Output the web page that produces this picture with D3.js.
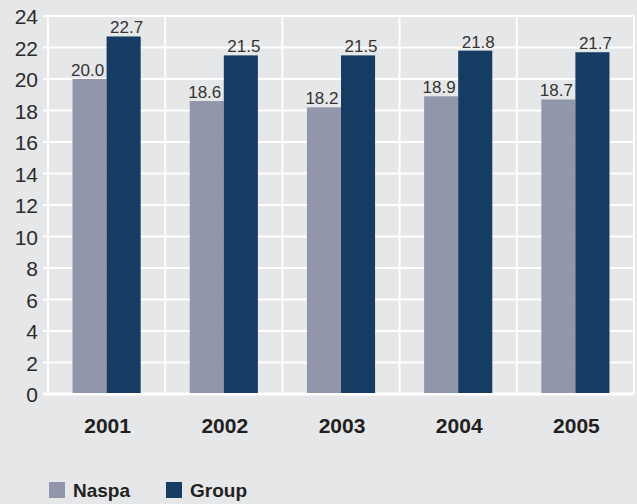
<!DOCTYPE html>
<html><head><meta charset="utf-8">
<script src="https://cdn.jsdelivr.net/npm/d3@7"></script>
<style>
html,body{margin:0;padding:0;background:#e6e7e9;}
svg{display:block;}
</style></head>
<body>
<svg id="chart" width="637" height="504"></svg>
<script>
const categories = ["2001","2002","2003","2004","2005"];
const seriesNames = ["Naspa","Group"];
const naspa = [20.0, 18.6, 18.2, 18.9, 18.7];
const group = [22.7, 21.5, 21.5, 21.8, 21.7];
const yTicks = [0,2,4,6,8,10,12,14,16,18,20,22,24];
const colors = ["#9196ab", "#163c63"];

(function(){
const svg = d3.select("#chart");
const W = 637, H = 504;
svg.append("rect").attr("width", W).attr("height", H).attr("fill", "#e6e7e9");

const pLeft = 48, pRight = 634, pTop = 16, pBottom = 394;
const x = d3.scaleBand().domain(categories).range([pLeft, pRight]).paddingInner(0).paddingOuter(0);
const x1 = d3.scaleBand().domain(seriesNames).range([0, x.bandwidth()]).paddingInner(0).paddingOuter(0.72);
const y = d3.scaleLinear().domain([0, 24]).range([pBottom, pTop]);

const numFont = "'Liberation Sans', Arial, sans-serif";
const boldFont = "'Liberation Sans', Arial, sans-serif";

// horizontal grid
svg.append("g").selectAll("line").data(yTicks).join("line")
  .attr("x1", 43).attr("x2", pRight)
  .attr("y1", d => y(d)).attr("y2", d => y(d))
  .attr("stroke", "#ffffff").attr("stroke-width", d => d === 0 ? 3 : 2);

// vertical grid
const vb = categories.map(c => x(c)).concat([pRight]);
svg.append("g").selectAll("line").data(vb).join("line")
  .attr("x1", d => d).attr("x2", d => d)
  .attr("y1", pTop).attr("y2", pBottom)
  .attr("stroke", "#ffffff").attr("stroke-width", 2);

// y axis labels
const yAxis = d3.axisLeft(y).tickValues(yTicks).tickSize(0).tickPadding(0).tickFormat(d3.format("d"));
const ya = svg.append("g").attr("transform", `translate(38,0)`).call(yAxis);
ya.select(".domain").remove();
ya.selectAll("text").attr("font-family", numFont).attr("font-size", 21).attr("fill", "#2b2b2b").attr("dy", "0.36em");

// bars
const data = categories.map((c, i) => ({cat: c, vals: [{s: "Naspa", v: naspa[i]}, {s: "Group", v: group[i]}]}));
const gb = svg.append("g").selectAll("g").data(data).join("g")
  .attr("transform", d => `translate(${x(d.cat)},0)`);
gb.selectAll("rect").data(d => d.vals).join("rect")
  .attr("x", d => x1(d.s)).attr("width", x1.bandwidth())
  .attr("y", d => y(d.v)).attr("height", d => y(0) - y(d.v) - 1)
  .attr("fill", (d, i) => colors[i]);
gb.selectAll("text").data(d => d.vals).join("text")
  .attr("x", (d, i) => x1(d.s) + x1.bandwidth() / 2 + (i === 0 ? -2 : 3))
  .attr("y", d => y(d.v) - 3)
  .attr("text-anchor", "middle")
  .attr("font-family", numFont).attr("font-size", 17).attr("fill", "#333333")
  .text(d => d3.format(".1f")(d.v));

// x axis labels
const xAxis = d3.axisBottom(x).tickSize(0).tickPadding(0);
const xa = svg.append("g").attr("transform", `translate(1,${pBottom})`).call(xAxis);
xa.select(".domain").remove();
xa.selectAll("text").attr("font-family", boldFont).attr("font-weight", "bold").attr("font-size", 21)
  .attr("fill", "#231f20").attr("dy", 0).attr("y", 39);

// legend
const legX = [49, 166];
const lg = svg.append("g").selectAll("g").data(seriesNames).join("g")
  .attr("transform", (d, i) => `translate(${legX[i]},482)`);
lg.append("rect").attr("width", 16).attr("height", 16).attr("fill", (d, i) => colors[i]);
lg.append("text").attr("x", 24).attr("y", 15).text(d => d)
  .attr("font-family", boldFont).attr("font-weight", "bold").attr("font-size", 19).attr("fill", "#231f20");
})();
</script>
</body></html>
